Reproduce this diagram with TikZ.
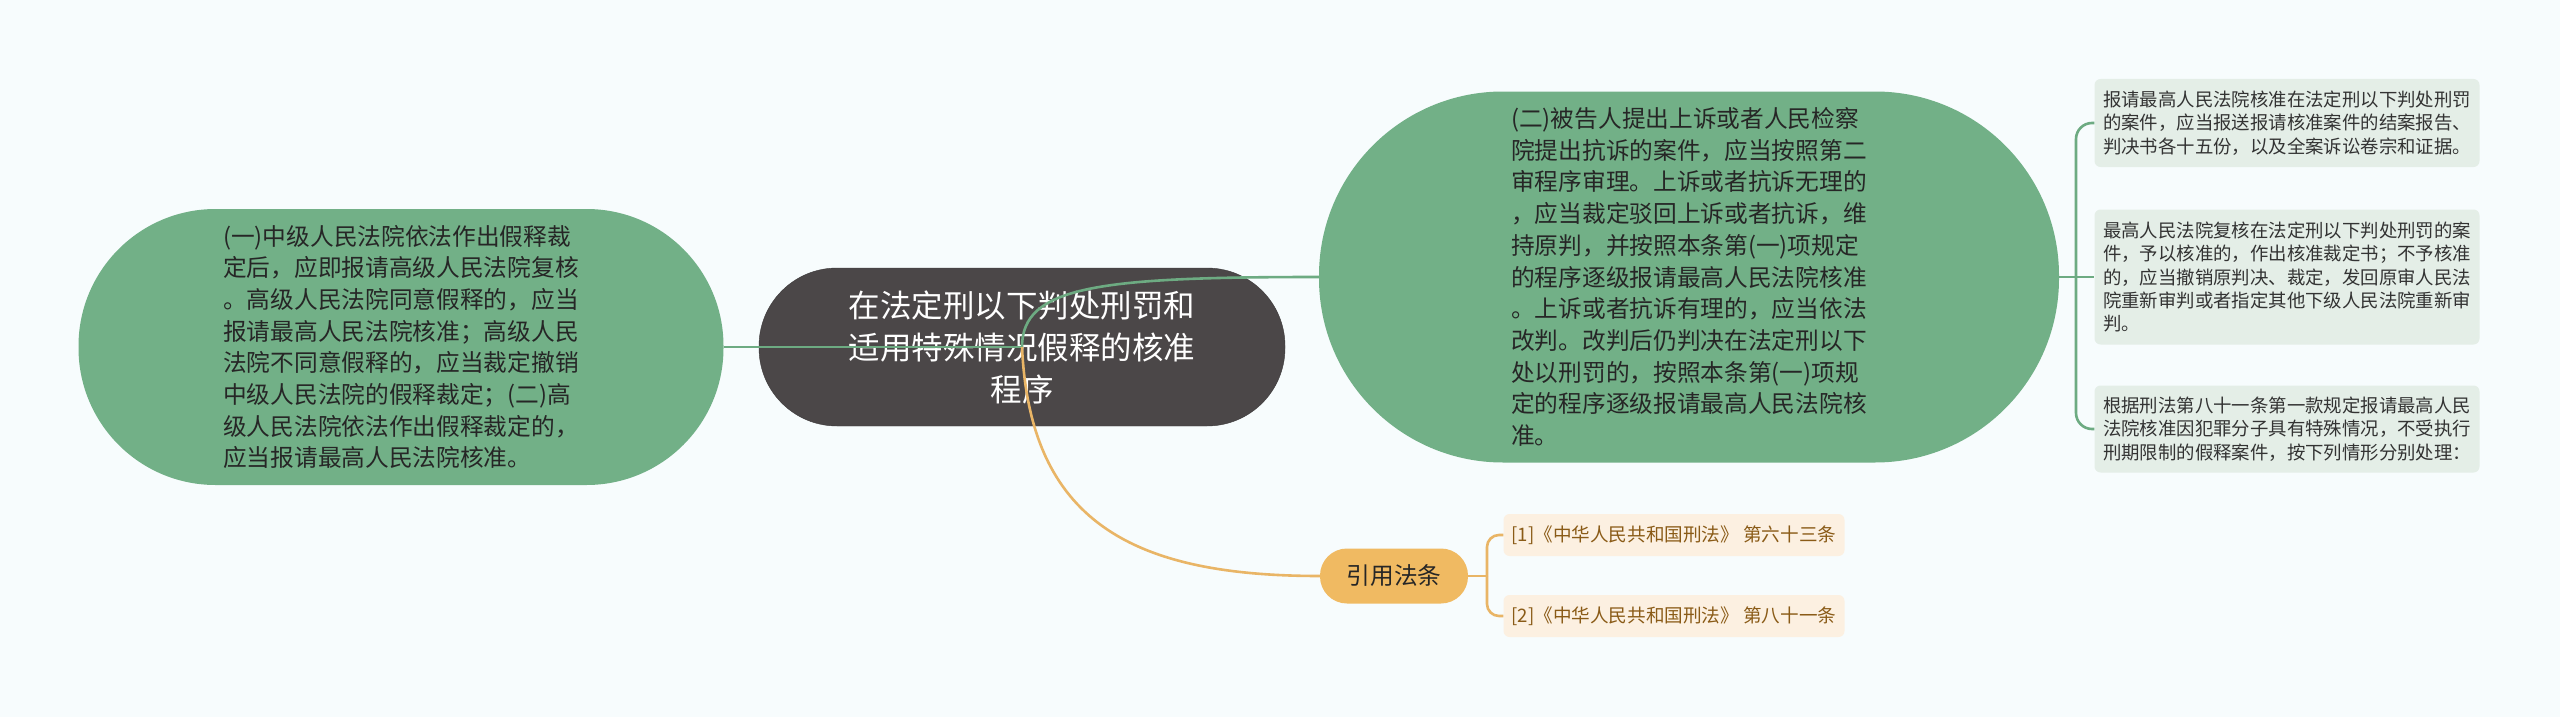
\documentclass[tikz,border=0pt]{standalone}
\usepackage{fontspec}
\setmainfont{Noto Sans CJK SC}
\definecolor{bgcol}{HTML}{F7FCFD}
\definecolor{rootcol}{HTML}{4B4748}
\definecolor{greencol}{HTML}{72B087}
\definecolor{glinecol}{HTML}{6DAB82}
\definecolor{leafcol}{HTML}{E4EEE7}
\definecolor{orangecol}{HTML}{F0BA62}
\definecolor{olinecol}{HTML}{E9B566}
\definecolor{refcol}{HTML}{FCF0E1}
\definecolor{reftext}{HTML}{8A5B17}

\begin{document}
\begin{tikzpicture}[x=1pt,y=-1pt,
    rootnode/.style={fill=rootcol,draw=rootcol!80!black,text=white,align=center,
      minimum width=526pt,minimum height=158pt,rounded corners=78pt,
      font=\fontsize{31.5}{42}\selectfont},
    bignode/.style={fill=greencol,text=black!85,align=left,
      font=\fontsize{23.7}{31.7}\selectfont},
    leafnode/.style={fill=leafcol,text=black!80,align=left,rounded corners=6pt,
      minimum width=385pt,font=\fontsize{18.4}{23.3}\selectfont},
    citenode/.style={fill=orangecol,text=black!85,minimum width=148pt,minimum height=55pt,
      rounded corners=27pt,font=\fontsize{23.7}{28}\selectfont},
    refnode/.style={fill=refcol,text=reftext,rounded corners=6pt,
      minimum width=341pt,minimum height=42pt,font=\fontsize{18.6}{22}\selectfont},
    gline/.style={draw=glinecol,line width=2.6pt},
    oline/.style={draw=olinecol,line width=2.6pt}]
    \fill[bgcol] (0,0) rectangle (2560,717);
    \useasboundingbox (0,0) rectangle (2560,717);

    \node[rootnode] (root) at (1022,347) {在法定刑以下判处刑罚和\\适用特殊情况假释的核准\\程序};
    \node[bignode,minimum width=645pt,minimum height=276pt,rounded corners=137pt] (left) at (401,347)
      {(一)中级人民法院依法作出假释裁\\定后，应即报请高级人民法院复核\\。高级人民法院同意假释的，应当\\报请最高人民法院核准；高级人民\\法院不同意假释的，应当裁定撤销\\中级人民法院的假释裁定；(二)高\\级人民法院依法作出假释裁定的，\\应当报请最高人民法院核准。};
    \node[bignode,minimum width=740pt,minimum height=371pt,rounded corners=184pt] (right) at (1689,277)
      {(二)被告人提出上诉或者人民检察\\院提出抗诉的案件，应当按照第二\\审程序审理。上诉或者抗诉无理的\\，应当裁定驳回上诉或者抗诉，维\\持原判，并按照本条第(一)项规定\\的程序逐级报请最高人民法院核准\\。上诉或者抗诉有理的，应当依法\\改判。改判后仍判决在法定刑以下\\处以刑罚的，按照本条第(一)项规\\定的程序逐级报请最高人民法院核\\准。};

    \node[leafnode,minimum height=88pt] (leafa) at (2287,123)
      {报请最高人民法院核准在法定刑以下判处刑罚\\的案件，应当报送报请核准案件的结案报告、\\判决书各十五份，以及全案诉讼卷宗和证据。};
    \node[leafnode,minimum height=135pt] (leafb) at (2287,277)
      {最高人民法院复核在法定刑以下判处刑罚的案\\件，予以核准的，作出核准裁定书；不予核准\\的，应当撤销原判决、裁定，发回原审人民法\\院重新审判或者指定其他下级人民法院重新审\\判。};
    \node[leafnode,minimum height=87pt] (leafc) at (2287,429)
      {根据刑法第八十一条第一款规定报请最高人民\\法院核准因犯罪分子具有特殊情况，不受执行\\刑期限制的假释案件，按下列情形分别处理：};

    \node[citenode] (cite) at (1394,576) {引用法条};
    \node[refnode] (refa) at (1674,535) {[1]《中华人民共和国刑法》 第六十三条};
    \node[refnode] (refb) at (1674,616) {[2]《中华人民共和国刑法》 第八十一条};

    \coordinate (rfork) at (2076,277);
    \coordinate (cfork) at (1487,576);

    \draw[gline] (root.center) -- (left.east);
    \draw[gline] (root.center) .. controls (1022,286) and (1099,277) .. (right.west);
    \draw[gline] (right.east) -- (leafb.west);
    \draw[gline,rounded corners=16pt] (rfork) |- (leafa.west);
    \draw[gline,rounded corners=16pt] (rfork) |- (leafc.west);

    \draw[oline] (root.center) .. controls (1030,520) and (1130,576) .. (cite.west);
    \draw[oline] (cite.east) -- (cfork);
    \draw[oline,rounded corners=12pt] (cfork) |- (refa.west);
    \draw[oline,rounded corners=12pt] (cfork) |- (refb.west);
\end{tikzpicture}
\end{document}
